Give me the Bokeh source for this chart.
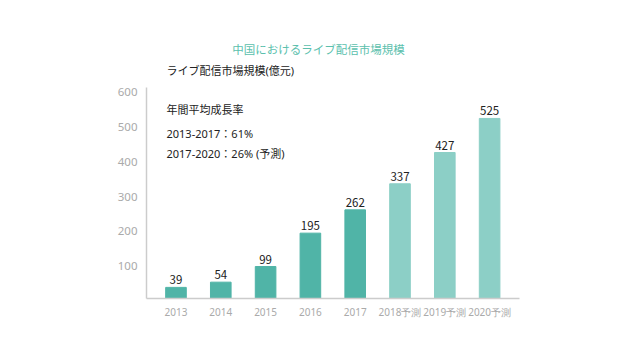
from bokeh.plotting import figure
from bokeh.models import ColumnDataSource, LabelSet, FixedTicker, Range1d
from bokeh.core.properties import value
from bokeh.embed import file_html
from bokeh.resources import INLINE

years = ["2013", "2014", "2015", "2016", "2017", "2018予測", "2019予測", "2020予測"]
values = [39, 54, 99, 195, 262, 337, 427, 525]
forecast = [False, False, False, False, False, True, True, True]
y_ticks = [100, 200, 300, 400, 500, 600]

title_text = "中国におけるライブ配信市場規模"
ytitle_text = "ライブ配信市場規模(億元)"
notes = ["年間平均成長率", "2013-2017：61%", "2017-2020：26% (予測)"]

FONT = "Noto Sans CJK JP"
MIX = "Noto Sans, Noto Sans CJK JP"
DARK = "#50b4a7"
LIGHT = "#8ccfc6"

xs = list(range(len(years)))
colors = [LIGHT if f else DARK for f in forecast]
src = ColumnDataSource(dict(x=xs, v=values, c=colors, t=[str(v) for v in values]))

W, H = 624, 344
FL, FB = 146, 298  # frame left / bottom in canvas pixels
p = figure(width=W, height=H, output_backend="svg", toolbar_location=None,
           x_range=Range1d(-0.658, 7.667), y_range=Range1d(7, 778),
           min_border_left=FL, min_border_right=W - 519, min_border_top=30,
           min_border_bottom=H - FB)
p.outline_line_color = None
p.grid.grid_line_color = None

p.vbar(x="x", top="v", bottom=0, width=0.46, color="c", source=src)

p.add_layout(LabelSet(x="x", y="v", text="t", source=src, text_align="center",
                      text_baseline="bottom", y_offset=3, text_font_size="11.5px",
                      text_color="#222222", text_font=value(FONT)))

p.xaxis.ticker = FixedTicker(ticks=xs)
p.xaxis.major_label_overrides = {i: y for i, y in enumerate(years)}
p.yaxis.ticker = FixedTicker(ticks=y_ticks)
p.yaxis.bounds = (7, 614)
for ax in (p.xaxis, p.yaxis):
    ax.major_tick_line_color = None
    ax.minor_tick_line_color = None
    ax.major_tick_out = 0
    ax.major_tick_in = 0
    ax.axis_line_color = "#cccccc"
    ax.axis_line_width = 1.5
    ax.major_label_text_color = "#aaaaaa"
    ax.major_label_text_font = "Noto Sans"
p.xaxis.major_label_text_font_size = "10px"
p.yaxis.major_label_text_font_size = "11.5px"
p.xaxis.major_label_standoff = 6
p.yaxis.major_label_standoff = 9

p.text(x=[3.18], y=[726], text=[title_text], text_align="center", text_baseline="middle",
       text_font=value(FONT), text_font_size="11.5px", text_color="#5bbfad")
p.text(x=[-0.212], y=[663], text=[ytitle_text], text_align="left", text_baseline="middle",
       text_font=value(MIX), text_font_size="11px", text_color="#222222")
note_y = [551, 482, 425]
p.text(x=[-0.212] * len(notes), y=note_y, text=notes, text_align="left", text_baseline="middle",
       text_font=value(MIX), text_font_size="11px", text_color="#222222")

open("out.html", "w").write(file_html(p, INLINE))
